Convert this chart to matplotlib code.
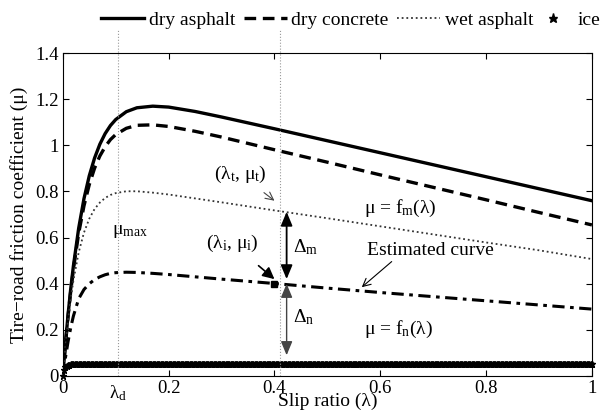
import numpy as np
import matplotlib
matplotlib.use("Agg")
import matplotlib.pyplot as plt
import matplotlib.transforms as mtransforms

plt.rcParams['font.family'] = ['Liberation Serif', 'DejaVu Serif']
plt.rcParams['mathtext.default'] = 'regular'
plt.rcParams['font.size'] = 14

# friction curves sampled along the slip axis
slip = [0, 0.005, 0.01, 0.015, 0.02, 0.03, 0.04, 0.05, 0.06, 0.07, 0.08, 0.09,
        0.10, 0.12, 0.14, 0.17, 0.20, 0.25, 0.30, 0.40, 0.50, 0.60, 0.70,
        0.80, 0.90, 1.00]
dry_asphalt = [0, 0.142, 0.268, 0.379, 0.477, 0.641, 0.769, 0.868, 0.945, 1.005,
               1.051, 1.086, 1.112, 1.146, 1.163, 1.170, 1.166, 1.147, 1.123,
               1.072, 1.020, 0.968, 0.916, 0.864, 0.812, 0.760]
dry_concrete = [0, 0.139, 0.261, 0.368, 0.463, 0.619, 0.738, 0.830, 0.901, 0.954,
                0.994, 1.025, 1.047, 1.074, 1.087, 1.089, 1.082, 1.061, 1.036,
                0.981, 0.927, 0.872, 0.818, 0.764, 0.709, 0.655]
wet_asphalt = [0, 0.132, 0.243, 0.336, 0.414, 0.536, 0.622, 0.682, 0.724, 0.752,
               0.772, 0.785, 0.793, 0.801, 0.801, 0.795, 0.787, 0.770, 0.753,
               0.718, 0.684, 0.649, 0.614, 0.579, 0.545, 0.507]
estimated = [0, 0.080, 0.150, 0.210, 0.260, 0.335, 0.375, 0.400, 0.418, 0.430,
             0.439, 0.445, 0.448, 0.450, 0.449, 0.445, 0.440, 0.430, 0.420,
             0.401, 0.381, 0.362, 0.344, 0.326, 0.308, 0.290]

# ice is sampled finely, markers only
ice_slip = np.arange(401) * 0.0025
ice = [0, 0.027, 0.039, 0.045, 0.048, 0.049] + [0.05] * 395

lam_d = 0.105
lam_t = 0.41
point_i = (0.40, 0.40)
point_t = (0.423, 0.712)
delta_n_end = 0.09

fig = plt.figure(figsize=(6.04, 4.15), dpi=100)
ax = fig.add_axes([0.104, 0.094, 0.876, 0.778])

h1, = ax.plot(slip, dry_asphalt, color='black', lw=2.4, solid_joinstyle='round')
h2, = ax.plot(slip, dry_concrete, color='black', lw=2.4, dashes=(3.5, 2))
h3, = ax.plot(slip, wet_asphalt, color='#333333', lw=1.3, dashes=(1, 1.6))
ax.plot(slip, estimated, color='black', lw=2.2, dashes=(4, 1.8, 1.2, 1.8))
h4, = ax.plot(ice_slip, ice, ls='none', marker='*', ms=4.5, color='black',
              clip_on=False)

# guide lines at lambda_d and lambda_t, running up past the frame
for xv in (lam_d, lam_t):
    ax.plot([xv, xv], [0, 1.5], color='#999999', lw=0.8, ls=':', clip_on=False)

ax.plot(*point_i, marker='s', ms=5, color='black')

ax.annotate('', xy=(point_t[0], point_t[1]), xytext=(point_t[0], point_i[1] + 0.02),
            arrowprops=dict(arrowstyle='<|-|>,head_length=0.6,head_width=0.25',
                            color='black', lw=1.3, shrinkA=0, shrinkB=0))
ax.annotate('', xy=(point_t[0], delta_n_end), xytext=(point_t[0], point_i[1]),
            arrowprops=dict(arrowstyle='<|-|>,head_length=0.6,head_width=0.25',
                            color='#444444', lw=1.0, shrinkA=0, shrinkB=0))

ax.annotate('(λ$_t$, μ$_t$)', xy=(0.40, 0.76), xytext=(0.335, 0.875),
            ha='center', va='center',
            arrowprops=dict(arrowstyle='->', color='#444444', lw=0.8,
                            shrinkA=6, shrinkB=0))
ax.annotate('(λ$_i$, μ$_i$)', xy=(0.40, 0.42), xytext=(0.32, 0.575),
            ha='center', va='center',
            arrowprops=dict(arrowstyle='-|>,head_length=0.5,head_width=0.25',
                            color='black', lw=1.2, shrinkA=10, shrinkB=0))
ax.annotate('Estimated curve', xy=(0.565, 0.385), xytext=(0.575, 0.545),
            ha='left', va='center',
            arrowprops=dict(arrowstyle='->', color='black', lw=0.8,
                            shrinkA=0, shrinkB=0,
                            relpos=(0.22, 0.0)))

ax.text(0.093, 0.625, 'μ$_{max}$', ha='left', va='center')
ax.text(0.435, 0.56, 'Δ$_m$', ha='left', va='center')
ax.text(0.435, 0.255, 'Δ$_n$', ha='left', va='center')
ax.text(0.57, 0.725, 'μ = f$_m$(λ)', ha='left', va='center')
ax.text(0.57, 0.20, 'μ = f$_n$(λ)', ha='left', va='center')

ax.set_xlim(0, 1)
ax.set_ylim(0, 1.4)
ax.set_xticks([0, 0.2, 0.4, 0.6, 0.8, 1])
ax.set_xticklabels(['0', '0.2', '0.4', '0.6', '0.8', '1'])
ax.set_yticks([0, 0.2, 0.4, 0.6, 0.8, 1, 1.2, 1.4])
ax.set_yticklabels(['0', '0.2', '0.4', '0.6', '0.8', '1', '1.2', '1.4'])
ax.tick_params(direction='in', top=True, right=True, length=4, width=0.8,
               labelsize=13.5, pad=3)
trans = mtransforms.blended_transform_factory(ax.transData, ax.transAxes)
ax.text(lam_d, -0.022, 'λ$_d$', transform=trans, ha='center', va='top', fontsize=13.5)
for s in ax.spines.values():
    s.set_linewidth(0.8)

ax.set_xlabel('Slip ratio (λ)', fontsize=14, labelpad=-3)
ax.set_ylabel('Tire−road friction coefficient (μ)', fontsize=14, labelpad=5)

# legend row above the axes; ice gets its own slot at the right
leg_y = 1 - 11 / 415
fig.legend([h1, h2, h3], ['dry asphalt', 'dry concrete', 'wet asphalt'],
           loc='upper left', bbox_to_anchor=(101 / 604, leg_y), ncol=3,
           frameon=False, borderpad=0, borderaxespad=0,
           handlelength=2.2, handletextpad=0.25, columnspacing=0.45, fontsize=14)
fig.legend([h4], ['ice'], loc='upper left', bbox_to_anchor=(537 / 604, leg_y),
           frameon=False, borderpad=0, borderaxespad=0,
           handlelength=1.6, handletextpad=0.5, fontsize=14, markerscale=1.5)

fig.savefig('out.png', dpi=100)
